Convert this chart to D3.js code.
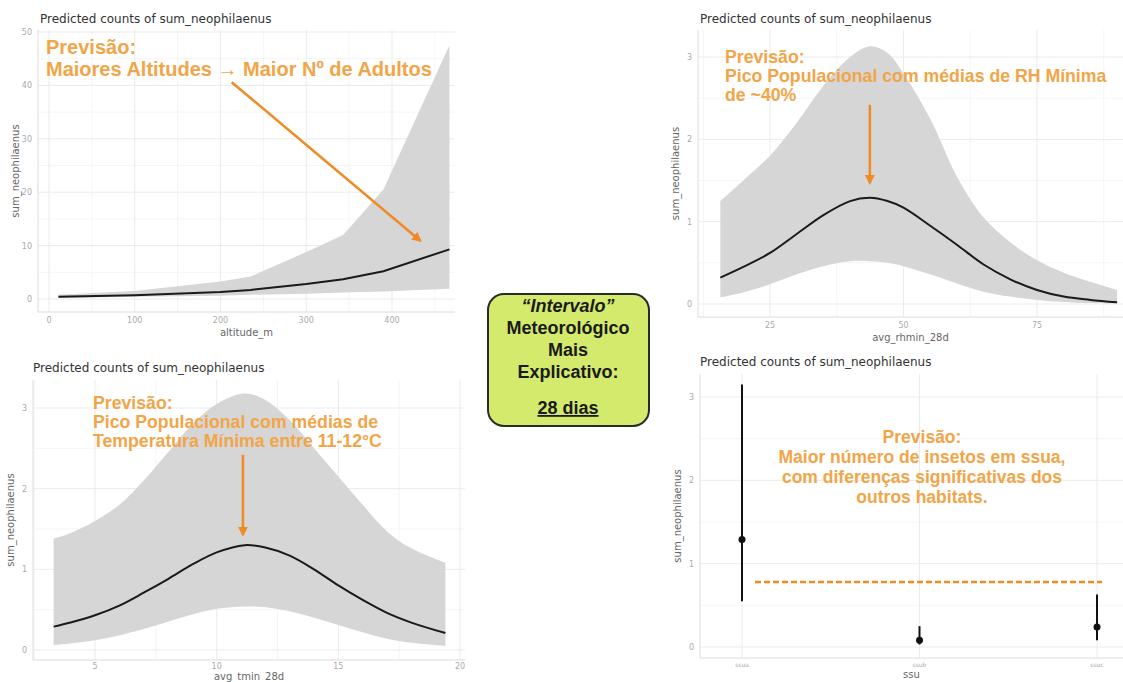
<!DOCTYPE html>
<html><head><meta charset="utf-8">
<script src="https://cdn.jsdelivr.net/npm/d3@7"></script>
<style>
body{margin:0;background:#fff;}
svg{display:block;font-family:"DejaVu Sans",sans-serif;}
</style></head>
<body><svg id="c" width="1123" height="682"></svg>
<script>
// ---------- DATA ----------
const titleText = "Predicted counts of sum_neophilaenus";
const yLabel = "sum_neophilaenus";

// Panel 1: altitude
const altX     = [11, 100, 200, 235, 300, 343, 390, 467];
const altPred  = [0.4, 0.7, 1.3, 1.7, 2.8, 3.7, 5.2, 9.3];
const altHigh  = [0.8, 1.5, 3.3, 4.2, 8.8, 12.0, 20.5, 47.5];
const altLow   = [0.2, 0.4, 0.6, 0.8, 1.0, 1.2, 1.4, 1.9];
const altTicksX = [0, 100, 200, 300, 400];
const altTicksY = [0, 10, 20, 30, 40, 50];

// Panel 2: avg_rhmin_28d
const rhX    = [15.7, 20, 25, 30, 35, 40, 43.7, 47, 50, 55, 60, 65, 70, 75, 80, 85, 90];
const rhPred = [0.32, 0.45, 0.62, 0.85, 1.08, 1.25, 1.29, 1.25, 1.17, 0.95, 0.72, 0.48, 0.30, 0.17, 0.09, 0.05, 0.02];
const rhHigh = [1.25, 1.5, 1.8, 2.2, 2.65, 3.0, 3.13, 3.05, 2.8, 2.25, 1.55, 1.05, 0.75, 0.53, 0.38, 0.27, 0.17];
const rhLow  = [0.08, 0.14, 0.24, 0.36, 0.46, 0.52, 0.52, 0.5, 0.46, 0.36, 0.25, 0.15, 0.09, 0.05, 0.025, 0.012, 0.005];
const rhTicksX = [25, 50, 75];
const rhTicksY = [0, 1, 2, 3];

// Panel 3: avg_tmin_28d
const tX    = [3.3, 4, 5, 6, 7, 8, 9, 10, 11.15, 12, 13, 14, 15, 16, 17, 18, 19.4];
const tPred = [0.29, 0.34, 0.43, 0.55, 0.71, 0.88, 1.06, 1.21, 1.30, 1.27, 1.17, 1.0, 0.80, 0.62, 0.46, 0.34, 0.21];
const tHigh = [1.38, 1.45, 1.6, 1.8, 2.1, 2.45, 2.8, 3.05, 3.18, 3.1, 2.85, 2.5, 2.15, 1.8, 1.47, 1.26, 1.08];
const tLow  = [0.06, 0.08, 0.12, 0.18, 0.26, 0.35, 0.44, 0.51, 0.54, 0.53, 0.48, 0.40, 0.31, 0.22, 0.14, 0.09, 0.05];
const tTicksX = [5, 10, 15, 20];
const tTicksY = [0, 1, 2, 3];

// Panel 4: ssu
const ssuCats = ["ssua", "ssub", "ssuc"];
const ssuPred = [1.29, 0.08, 0.24];
const ssuLow  = [0.55, 0.03, 0.08];
const ssuHigh = [3.15, 0.25, 0.63];
const ssuRef  = 0.78;
const ssuTicksY = [0, 1, 2, 3];

// ---------- STYLE ----------
const ribbonCol = "#d6d6d6";
const annCol = "#F2A548";
const arrowCol = "#F08A24";
const svg = d3.select("#c");

const defs = svg.append("defs");
defs.append("marker").attr("id","ah").attr("viewBox","0 0 10 10")
  .attr("refX",8).attr("refY",5).attr("markerWidth",4).attr("markerHeight",4)
  .attr("orient","auto")
  .append("path").attr("d","M0,0 L10,5 L0,10 z").attr("fill",arrowCol);

function drawFrame(g, p, xScale, yScale, xTicks, yTicks, xMinor, yMinor, xTickSize) {
  g.selectAll(".ymin").data(yMinor).join("line")
    .attr("x1",p.l).attr("x2",p.r).attr("y1",d=>yScale(d)).attr("y2",d=>yScale(d))
    .attr("stroke","#f3f3f3").attr("stroke-width",0.8);
  g.selectAll(".xmin").data(xMinor).join("line")
    .attr("y1",p.t).attr("y2",p.b).attr("x1",d=>xScale(d)).attr("x2",d=>xScale(d))
    .attr("stroke","#f3f3f3").attr("stroke-width",0.8);
  g.selectAll(".ymaj").data(yTicks).join("line")
    .attr("x1",p.l).attr("x2",p.r).attr("y1",d=>yScale(d)).attr("y2",d=>yScale(d))
    .attr("stroke","#ebebeb").attr("stroke-width",1);
  g.selectAll(".xmaj").data(xTicks).join("line")
    .attr("y1",p.t).attr("y2",p.b).attr("x1",d=>xScale(d)).attr("x2",d=>xScale(d))
    .attr("stroke","#ebebeb").attr("stroke-width",1);
  g.append("line").attr("x1",p.l).attr("x2",p.r).attr("y1",p.b).attr("y2",p.b).attr("stroke","#dcdcdc");
  g.append("line").attr("x1",p.l).attr("x2",p.l).attr("y1",p.t).attr("y2",p.b).attr("stroke","#dcdcdc");
  g.selectAll(".ytl").data(yTicks).join("text")
    .attr("x",p.l-6).attr("y",d=>yScale(d)+3).attr("text-anchor","end")
    .attr("font-size",8).attr("fill","#aaa").text(d=>d);
  g.selectAll(".xtl").data(xTicks).join("text")
    .attr("x",d=>xScale(d)).attr("y",p.b+(p.tickDy||11)).attr("text-anchor","middle")
    .attr("font-size",xTickSize||8).attr("fill","#aaa").text(d=>d);
}
function titles(g, p, title, xl, yl) {
  g.append("text").attr("x",p.titleX).attr("y",p.titleY).attr("font-size",12)
    .attr("fill","#333").text(title);
  g.append("text").attr("x",(p.l+p.r)/2).attr("y",p.xtY).attr("text-anchor","middle")
    .attr("font-size",10).attr("fill","#666").text(xl);
  g.append("text").attr("transform",`translate(${p.l-19},${(p.t+p.b)/2}) rotate(-90)`)
    .attr("text-anchor","middle").attr("font-size",10).attr("fill","#666").text(yl);
}
function annText(g, lines, x, y0, dy, size, anchor) {
  const t = g.append("text").attr("font-family","'Liberation Sans',Arial,sans-serif")
    .attr("font-weight","bold").attr("font-size",size).attr("fill",annCol)
    .attr("text-anchor",anchor||"start");
  lines.forEach((s,i)=>t.append("tspan").attr("x",x).attr("y",y0+i*dy).text(s));
}
function ribbonPanel(g, xs, pred, lo, hi, x, y, curve) {
  const idx = d3.range(xs.length);
  g.append("path").datum(idx)
    .attr("d", d3.area().x(i=>x(xs[i])).y0(i=>y(lo[i])).y1(i=>y(hi[i])).curve(curve))
    .attr("fill", ribbonCol);
  g.append("path").datum(idx)
    .attr("d", d3.line().x(i=>x(xs[i])).y(i=>y(pred[i])).curve(curve))
    .attr("fill","none").attr("stroke","#1a1a1a").attr("stroke-width",2);
}
function arrow(g, x1, y1, x2, y2) {
  g.append("line").attr("x1",x1).attr("y1",y1).attr("x2",x2).attr("y2",y2)
    .attr("stroke",arrowCol).attr("stroke-width",2.5).attr("marker-end","url(#ah)");
}

// ---------- PANEL 1 ----------
{
  const p = {l:38, r:455, t:30, b:312, titleX:40, titleY:23, xtY:336};
  const g = svg.append("g");
  const x = d3.scaleLinear().domain([0,400]).range([49,392]);
  const y = d3.scaleLinear().domain([0,50]).range([299,32]);
  drawFrame(g, p, x, y, altTicksX, altTicksY, [50,150,250,350,450], [5,15,25,35,45]);
  ribbonPanel(g, altX, altPred, altLow, altHigh, x, y, d3.curveLinear);
  titles(g, p, titleText, "altitude_m", yLabel);
  annText(g, ["Previsão:", "Maiores Altitudes \u2192 Maior Nº de Adultos"], 46, 54, 22, 20);
  arrow(g, x(213), y(40.6), x(433), y(10.9));
}
// ---------- PANEL 2 ----------
{
  const p = {l:698, r:1123, t:30, b:317, titleX:700, titleY:23, xtY:341};
  const g = svg.append("g");
  const x = d3.scaleLinear().domain([25,75]).range([770,1037]);
  const y = d3.scaleLinear().domain([0,3]).range([304,57]);
  drawFrame(g, p, x, y, rhTicksX, rhTicksY, [12.5,37.5,62.5,87.5], [0.5,1.5,2.5]);
  ribbonPanel(g, rhX, rhPred, rhLow, rhHigh, x, y, d3.curveCatmullRom);
  titles(g, p, titleText, "avg_rhmin_28d", yLabel);
  annText(g, ["Previsão:", "Pico Populacional com médias de RH Mínima", "de ~40%"], 725, 63, 19, 17.7);
  arrow(g, x(43.7), y(2.42), x(43.7), y(1.47));
}
// ---------- PANEL 3 ----------
{
  const p = {l:33, r:465, t:380, b:660, titleX:33, titleY:372, xtY:680, tickDy:9};
  const g = svg.append("g");
  const x = d3.scaleLinear().domain([5,20]).range([95,460]);
  const y = d3.scaleLinear().domain([0,3]).range([650,408]);
  drawFrame(g, p, x, y, tTicksX, tTicksY, [2.5,7.5,12.5,17.5], [0.5,1.5,2.5]);
  ribbonPanel(g, tX, tPred, tLow, tHigh, x, y, d3.curveCatmullRom);
  titles(g, p, titleText, "avg_tmin_28d", yLabel);
  annText(g, ["Previsão:", "Pico Populacional com médias de", "Temperatura Mínima entre 11-12°C"], 93, 409, 19, 17.7);
  arrow(g, x(11.08), y(2.42), x(11.08), y(1.43));
}
// ---------- PANEL 4 ----------
{
  const p = {l:700, r:1123, t:374, b:658, titleX:700, titleY:366, xtY:678, tickDy:9};
  const g = svg.append("g");
  const x = d3.scalePoint().domain(ssuCats).range([742,1097]);
  const y = d3.scaleLinear().domain([0,3]).range([647,397]);
  drawFrame(g, p, x, y, ssuCats, ssuTicksY, [], [0.5,1.5,2.5], 6);
  g.selectAll(".eb").data(ssuCats).join("line")
    .attr("x1",d=>x(d)).attr("x2",d=>x(d))
    .attr("y1",(d,i)=>y(ssuLow[i])).attr("y2",(d,i)=>y(ssuHigh[i]))
    .attr("stroke","#111").attr("stroke-width",2);
  g.selectAll(".pt").data(ssuCats).join("circle")
    .attr("cx",d=>x(d)).attr("cy",(d,i)=>y(ssuPred[i])).attr("r",3.5).attr("fill","#111");
  g.append("line").attr("x1",755).attr("x2",1102).attr("y1",y(ssuRef)).attr("y2",y(ssuRef))
    .attr("stroke",arrowCol).attr("stroke-width",2.5).attr("stroke-dasharray","6,3");
  titles(g, p, titleText, "ssu", yLabel);
  annText(g, ["Previsão:", "Maior número de insetos em ssua,", "com diferenças significativas dos", "outros habitats."], 922, 443, 20, 17.5, "middle");
}
// ---------- CENTER BOX ----------
{
  const g = svg.append("g");
  g.append("rect").attr("x",488).attr("y",294).attr("width",161).attr("height",132)
    .attr("rx",16).attr("fill","#d4ea6c").attr("stroke","#2a2a2a").attr("stroke-width",2);
  const t = g.append("text").attr("font-family","'Liberation Sans',Arial,sans-serif")
    .attr("font-weight","bold").attr("font-size",18).attr("fill","#1a1a1a").attr("text-anchor","middle");
  const lines = ["\u201CIntervalo\u201D","Meteorológico","Mais","Explicativo:"];
  const ys = [312, 334, 356, 378];
  lines.forEach((s,i)=>{
    const ts = t.append("tspan").attr("x",568).attr("y",ys[i]).text(s);
    if(i===0) ts.attr("font-style","italic");
  });
  t.append("tspan").attr("x",568).attr("y",414).attr("text-decoration","underline").text("28 dias");
}
</script></body></html>
